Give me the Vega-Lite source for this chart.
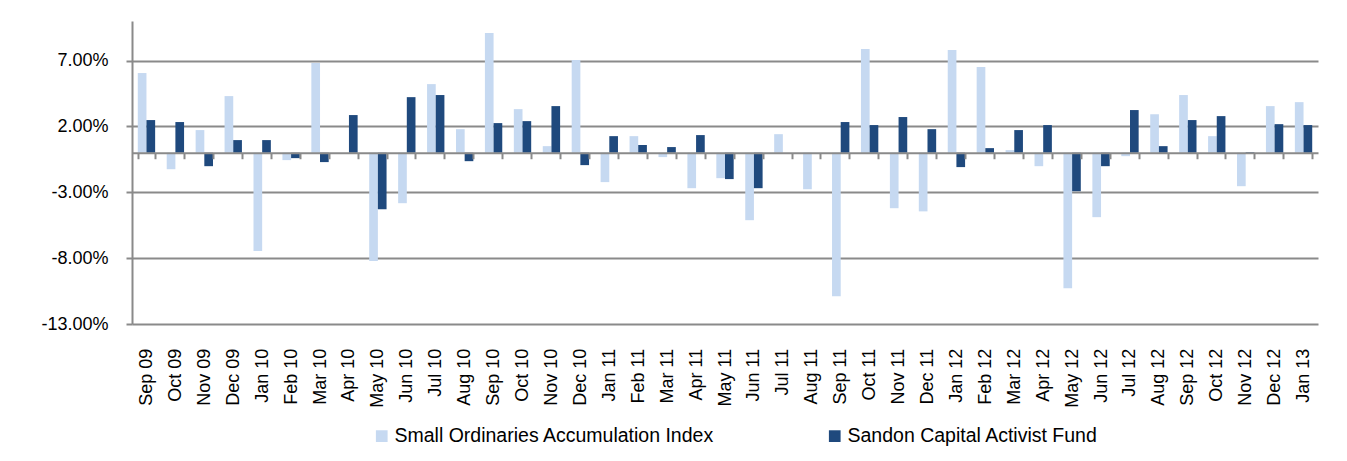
{
  "$schema": "https://vega.github.io/schema/vega-lite/v6.json",
  "autosize": "none",
  "width": 1186,
  "height": 303,
  "padding": {"left": 132, "top": 21, "right": 29, "bottom": 137},
  "background": "#ffffff",
  "config": {
    "font": "Liberation Sans",
    "view": {"stroke": null},
    "axis": {"labelColor": "#000000", "labelFont": "Liberation Sans", "titleColor": "#000000"}
  },
  "data": {
    "values": [
      {"month": "Sep 09", "series": "Small Ordinaries Accumulation Index", "value": 6.05},
      {"month": "Sep 09", "series": "Sandon Capital Activist Fund", "value": 2.48},
      {"month": "Oct 09", "series": "Small Ordinaries Accumulation Index", "value": -1.25},
      {"month": "Oct 09", "series": "Sandon Capital Activist Fund", "value": 2.33},
      {"month": "Nov 09", "series": "Small Ordinaries Accumulation Index", "value": 1.72},
      {"month": "Nov 09", "series": "Sandon Capital Activist Fund", "value": -1.02},
      {"month": "Dec 09", "series": "Small Ordinaries Accumulation Index", "value": 4.30},
      {"month": "Dec 09", "series": "Sandon Capital Activist Fund", "value": 0.96},
      {"month": "Jan 10", "series": "Small Ordinaries Accumulation Index", "value": -7.45},
      {"month": "Jan 10", "series": "Sandon Capital Activist Fund", "value": 0.96},
      {"month": "Feb 10", "series": "Small Ordinaries Accumulation Index", "value": -0.56},
      {"month": "Feb 10", "series": "Sandon Capital Activist Fund", "value": -0.41},
      {"month": "Mar 10", "series": "Small Ordinaries Accumulation Index", "value": 6.81},
      {"month": "Mar 10", "series": "Sandon Capital Activist Fund", "value": -0.71},
      {"month": "Apr 10", "series": "Small Ordinaries Accumulation Index", "value": 0.0},
      {"month": "Apr 10", "series": "Sandon Capital Activist Fund", "value": 2.86},
      {"month": "May 10", "series": "Small Ordinaries Accumulation Index", "value": -8.21},
      {"month": "May 10", "series": "Sandon Capital Activist Fund", "value": -4.29},
      {"month": "Jun 10", "series": "Small Ordinaries Accumulation Index", "value": -3.83},
      {"month": "Jun 10", "series": "Sandon Capital Activist Fund", "value": 4.22},
      {"month": "Jul 10", "series": "Small Ordinaries Accumulation Index", "value": 5.21},
      {"month": "Jul 10", "series": "Sandon Capital Activist Fund", "value": 4.38},
      {"month": "Aug 10", "series": "Small Ordinaries Accumulation Index", "value": 1.79},
      {"month": "Aug 10", "series": "Sandon Capital Activist Fund", "value": -0.64},
      {"month": "Sep 10", "series": "Small Ordinaries Accumulation Index", "value": 9.09},
      {"month": "Sep 10", "series": "Sandon Capital Activist Fund", "value": 2.25},
      {"month": "Oct 10", "series": "Small Ordinaries Accumulation Index", "value": 3.31},
      {"month": "Oct 10", "series": "Sandon Capital Activist Fund", "value": 2.40},
      {"month": "Nov 10", "series": "Small Ordinaries Accumulation Index", "value": 0.50},
      {"month": "Nov 10", "series": "Sandon Capital Activist Fund", "value": 3.54},
      {"month": "Dec 10", "series": "Small Ordinaries Accumulation Index", "value": 7.04},
      {"month": "Dec 10", "series": "Sandon Capital Activist Fund", "value": -0.94},
      {"month": "Jan 11", "series": "Small Ordinaries Accumulation Index", "value": -2.23},
      {"month": "Jan 11", "series": "Sandon Capital Activist Fund", "value": 1.26},
      {"month": "Feb 11", "series": "Small Ordinaries Accumulation Index", "value": 1.26},
      {"month": "Feb 11", "series": "Sandon Capital Activist Fund", "value": 0.58},
      {"month": "Mar 11", "series": "Small Ordinaries Accumulation Index", "value": -0.33},
      {"month": "Mar 11", "series": "Sandon Capital Activist Fund", "value": 0.43},
      {"month": "Apr 11", "series": "Small Ordinaries Accumulation Index", "value": -2.69},
      {"month": "Apr 11", "series": "Sandon Capital Activist Fund", "value": 1.34},
      {"month": "May 11", "series": "Small Ordinaries Accumulation Index", "value": -1.93},
      {"month": "May 11", "series": "Sandon Capital Activist Fund", "value": -2.00},
      {"month": "Jun 11", "series": "Small Ordinaries Accumulation Index", "value": -5.12},
      {"month": "Jun 11", "series": "Sandon Capital Activist Fund", "value": -2.69},
      {"month": "Jul 11", "series": "Small Ordinaries Accumulation Index", "value": 1.41},
      {"month": "Jul 11", "series": "Sandon Capital Activist Fund", "value": 0.0},
      {"month": "Aug 11", "series": "Small Ordinaries Accumulation Index", "value": -2.77},
      {"month": "Aug 11", "series": "Sandon Capital Activist Fund", "value": 0.0},
      {"month": "Sep 11", "series": "Small Ordinaries Accumulation Index", "value": -10.90},
      {"month": "Sep 11", "series": "Sandon Capital Activist Fund", "value": 2.33},
      {"month": "Oct 11", "series": "Small Ordinaries Accumulation Index", "value": 7.87},
      {"month": "Oct 11", "series": "Sandon Capital Activist Fund", "value": 2.10},
      {"month": "Nov 11", "series": "Small Ordinaries Accumulation Index", "value": -4.21},
      {"month": "Nov 11", "series": "Sandon Capital Activist Fund", "value": 2.71},
      {"month": "Dec 11", "series": "Small Ordinaries Accumulation Index", "value": -4.45},
      {"month": "Dec 11", "series": "Sandon Capital Activist Fund", "value": 1.79},
      {"month": "Jan 12", "series": "Small Ordinaries Accumulation Index", "value": 7.80},
      {"month": "Jan 12", "series": "Sandon Capital Activist Fund", "value": -1.09},
      {"month": "Feb 12", "series": "Small Ordinaries Accumulation Index", "value": 6.50},
      {"month": "Feb 12", "series": "Sandon Capital Activist Fund", "value": 0.35},
      {"month": "Mar 12", "series": "Small Ordinaries Accumulation Index", "value": 0.20},
      {"month": "Mar 12", "series": "Sandon Capital Activist Fund", "value": 1.72},
      {"month": "Apr 12", "series": "Small Ordinaries Accumulation Index", "value": -1.02},
      {"month": "Apr 12", "series": "Sandon Capital Activist Fund", "value": 2.10},
      {"month": "May 12", "series": "Small Ordinaries Accumulation Index", "value": -10.29},
      {"month": "May 12", "series": "Sandon Capital Activist Fund", "value": -2.92},
      {"month": "Jun 12", "series": "Small Ordinaries Accumulation Index", "value": -4.89},
      {"month": "Jun 12", "series": "Sandon Capital Activist Fund", "value": -1.02},
      {"month": "Jul 12", "series": "Small Ordinaries Accumulation Index", "value": -0.26},
      {"month": "Jul 12", "series": "Sandon Capital Activist Fund", "value": 3.24},
      {"month": "Aug 12", "series": "Small Ordinaries Accumulation Index", "value": 2.93},
      {"month": "Aug 12", "series": "Sandon Capital Activist Fund", "value": 0.50},
      {"month": "Sep 12", "series": "Small Ordinaries Accumulation Index", "value": 4.38},
      {"month": "Sep 12", "series": "Sandon Capital Activist Fund", "value": 2.48},
      {"month": "Oct 12", "series": "Small Ordinaries Accumulation Index", "value": 1.26},
      {"month": "Oct 12", "series": "Sandon Capital Activist Fund", "value": 2.78},
      {"month": "Nov 12", "series": "Small Ordinaries Accumulation Index", "value": -2.54},
      {"month": "Nov 12", "series": "Sandon Capital Activist Fund", "value": 0.05},
      {"month": "Dec 12", "series": "Small Ordinaries Accumulation Index", "value": 3.54},
      {"month": "Dec 12", "series": "Sandon Capital Activist Fund", "value": 2.17},
      {"month": "Jan 13", "series": "Small Ordinaries Accumulation Index", "value": 3.84},
      {"month": "Jan 13", "series": "Sandon Capital Activist Fund", "value": 2.10}
    ]
  },
  "mark": {"type": "bar", "clip": false},
  "encoding": {
    "x": {
      "field": "month",
      "type": "nominal",
      "sort": null,
      "scale": {"paddingInner": 0.4, "paddingOuter": 0.2},
      "axis": {
        "title": null,
        "orient": "bottom",
        "offset": -171.26,
        "labelAngle": -90,
        "labelAlign": "right",
        "labelBaseline": "middle",
        "labelFontSize": 18,
        "labelPadding": 189.5,
        "domainColor": "#8a8a8a",
        "domainWidth": 2,
        "tickColor": "#8a8a8a",
        "tickWidth": 2,
        "tickSize": 6,
        "tickBand": "extent",
        "grid": false,
        "zindex": 1
      }
    },
    "xOffset": {
      "field": "series",
      "type": "nominal",
      "sort": ["Small Ordinaries Accumulation Index", "Sandon Capital Activist Fund"],
      "scale": {"paddingInner": 0, "paddingOuter": 0}
    },
    "y": {
      "field": "value",
      "type": "quantitative",
      "scale": {"domain": [-13, 10], "nice": false, "zero": false},
      "axis": {
        "title": null,
        "values": [-13, -8, -3, 2, 7],
        "labelExpr": "(datum.value < 0 ? '-' : '') + format(abs(datum.value), '.2f') + '%'",
        "labelFontSize": 18,
        "labelPadding": 18,
        "tickSize": 6,
        "tickColor": "#8a8a8a",
        "tickWidth": 2,
        "domainColor": "#8a8a8a",
        "domainWidth": 2,
        "grid": true,
        "gridColor": "#8a8a8a",
        "gridWidth": 2
      }
    },
    "color": {
      "field": "series",
      "type": "nominal",
      "scale": {
        "domain": ["Small Ordinaries Accumulation Index", "Sandon Capital Activist Fund"],
        "range": ["#C6D9F1", "#1F497D"]
      },
      "legend": {
        "title": null,
        "orient": "none",
        "direction": "horizontal",
        "legendX": 240,
        "legendY": 405,
        "padding": 0,
        "symbolType": "square",
        "symbolSize": 137,
        "symbolStrokeWidth": 0,
        "labelFontSize": 19.5,
        "labelColor": "#000000",
        "labelOffset": 3,
        "labelLimit": 0,
        "columnPadding": 110
      }
    }
  }
}
